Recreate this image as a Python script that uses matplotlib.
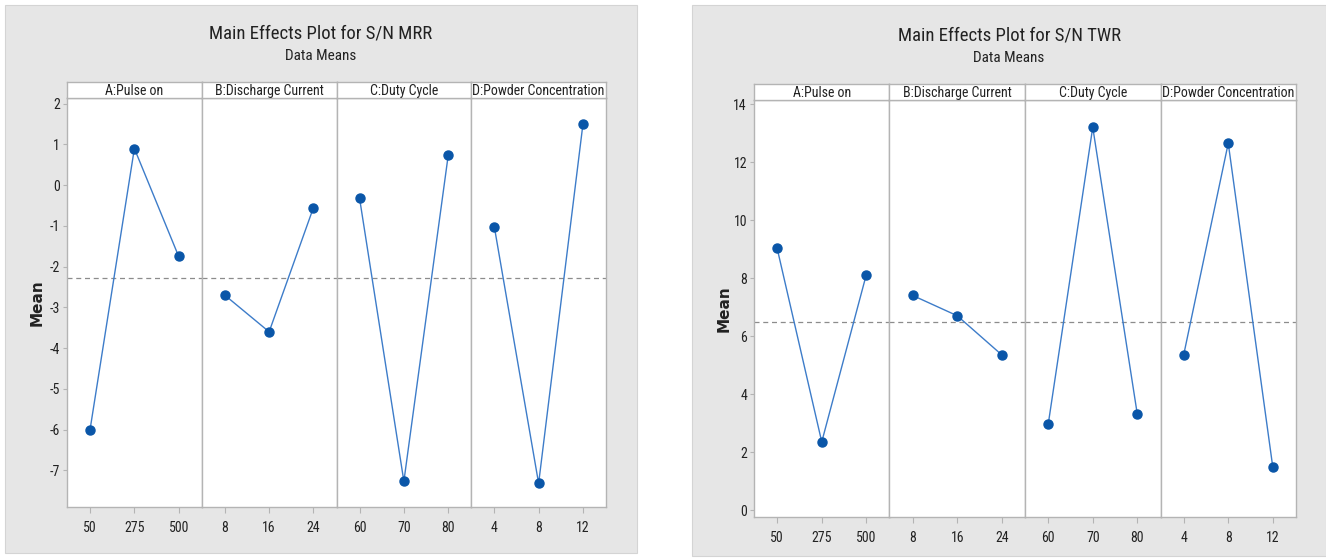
import matplotlib
matplotlib.use("Agg")
from matplotlib import pyplot as plt
from matplotlib.patches import Rectangle

# factor levels
factors = ["A:Pulse on", "B:Discharge Current", "C:Duty Cycle", "D:Powder Concentration"]
levels = [["50", "275", "500"], ["8", "16", "24"], ["60", "70", "80"], ["4", "8", "12"]]

# S/N ratio means for MRR, one list per factor
mrr_means = [[-6.00, 0.90, -1.75],
             [-2.70, -3.60, -0.55],
             [-0.32, -7.27, 0.73],
             [-1.02, -7.32, 1.50]]
mrr_grand = -2.28

# S/N ratio means for TWR
twr_means = [[9.02, 2.35, 8.12],
             [7.40, 6.70, 5.35],
             [2.95, 13.20, 3.30],
             [5.35, 12.65, 1.47]]
twr_grand = 6.49

W, H = 1326, 559
GRID = "#b4b4b4"
TXT = "#222222"
NARROW = dict(family=["Roboto Condensed", "Liberation Sans Narrow", "DejaVu Sans"],
              stretch="condensed")

fig = plt.figure(figsize=(W / 100, H / 100), dpi=100)
fig.patch.set_facecolor("white")


def fx(px):
    return px / W


def fy(py):
    return 1 - py / H


def panel(bg, x0, x1, y_strip, y_top, y_bot, means, grand, ylim, yticks, title):
    bx0, by0, bx1, by1 = bg
    fig.patches.append(Rectangle((fx(bx0), fy(by1)), fx(bx1 - bx0), (by1 - by0) / H,
                                 transform=fig.transFigure, facecolor="#e6e6e6",
                                 edgecolor="#d4d4d4", lw=0.8, zorder=-5))
    cx = fx((bx0 + bx1) / 2)
    fig.text(cx, fy(y_strip - 48), title, ha="center", va="center", fontsize=13.5,
             color=TXT, **NARROW)
    fig.text(cx, fy(y_strip - 26), "Data Means", ha="center", va="center", fontsize=11,
             color=TXT, **NARROW)
    fig.text(fx(x0 - 30), fy((y_top + y_bot) / 2), "Mean", rotation=90, ha="center",
             va="center", fontsize=11, fontweight="bold", color=TXT)

    fw = (x1 - x0) / 4
    for i in range(4):
        left = x0 + i * fw
        ax = fig.add_axes([fx(left), fy(y_bot), fx(fw), (y_bot - y_top) / H])
        ax.set_facecolor("white")
        ax.plot(range(3), means[i], color="#3d7cc9", lw=1.0, zorder=2)
        ax.plot(range(3), means[i], "o", color="#0a56a8", ms=6.5, zorder=3)
        ax.axhline(grand, color="#8c8c8c", lw=0.9, ls=(0, (4, 3)), zorder=1)
        ax.set_xlim(-0.52, 2.52)
        ax.set_ylim(*ylim)
        ax.set_xticks(range(3))
        ax.set_xticklabels(levels[i], fontsize=10, color=TXT, **NARROW)
        ax.set_yticks(yticks)
        if i == 0:
            ax.set_yticklabels([str(t) for t in yticks], fontsize=10, color=TXT, **NARROW)
            ax.tick_params(axis="y", length=3, color=GRID, width=0.8, pad=2)
        else:
            ax.tick_params(axis="y", left=False, labelleft=False)
        ax.tick_params(axis="x", length=4, color=GRID, width=0.8, pad=6)
        for s in ax.spines.values():
            s.set_color(GRID)
            s.set_linewidth(1.0)

        sax = fig.add_axes([fx(left), fy(y_top), fx(fw), (y_top - y_strip) / H])
        sax.set_facecolor("white")
        sax.set_xticks([])
        sax.set_yticks([])
        for s in sax.spines.values():
            s.set_color(GRID)
            s.set_linewidth(1.0)
        sax.text(0.5, 0.45, factors[i], ha="center", va="center", transform=sax.transAxes,
                 fontsize=10, color=TXT, **NARROW)


panel((5, 5, 637, 553), 67, 606, 82, 98, 507, mrr_means, mrr_grand,
      (-7.9, 2.14), list(range(-7, 3)), "Main Effects Plot for S/N MRR")
panel((692, 5, 1326, 556), 754, 1296, 84, 100, 517, twr_means, twr_grand,
      (-0.24, 14.14), list(range(0, 15, 2)), "Main Effects Plot for S/N TWR")

fig.savefig("out.png", dpi=100)
